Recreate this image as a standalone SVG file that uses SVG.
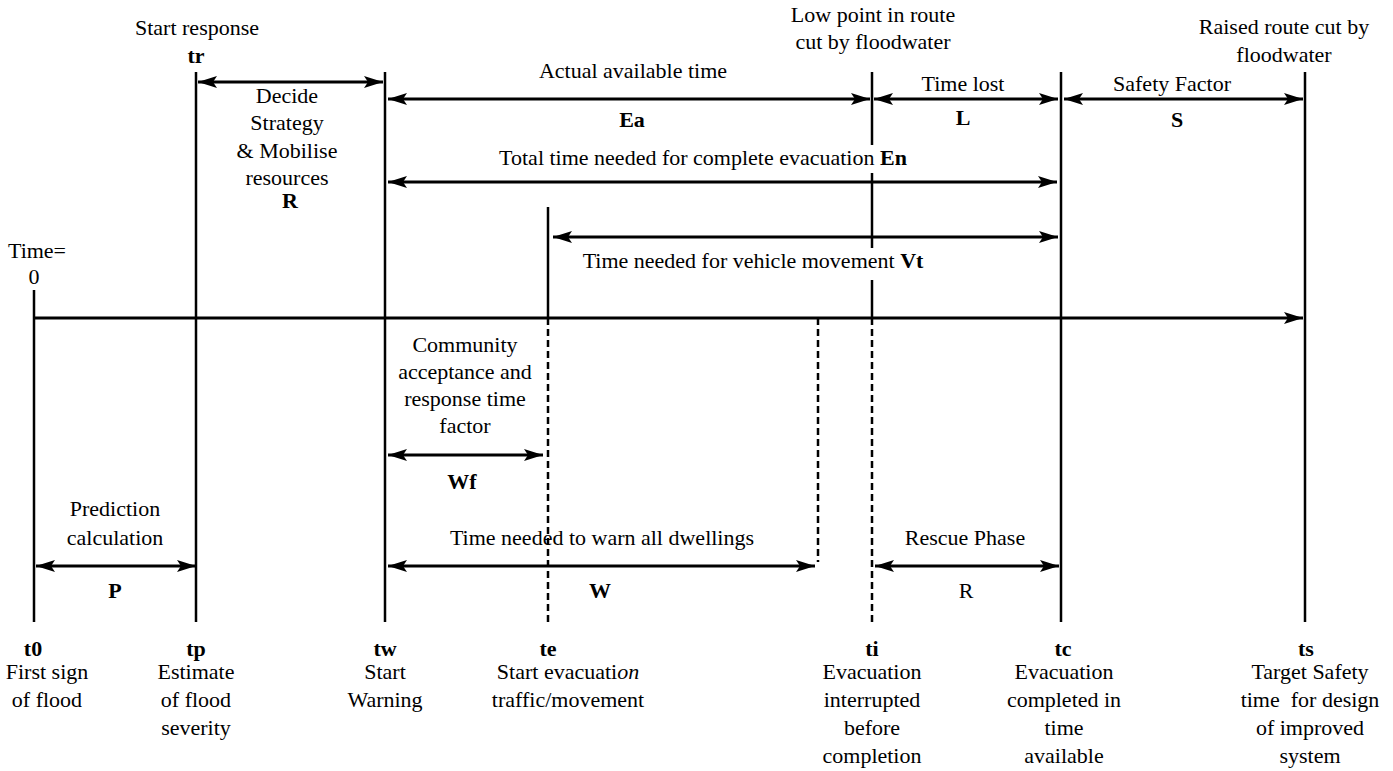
<svg xmlns="http://www.w3.org/2000/svg" width="1393" height="771" viewBox="0 0 1393 771">
<style>
.t{font-family:"Liberation Serif","Times New Roman",serif;font-size:22px;text-anchor:middle;fill:#000}
.b{font-weight:bold}
.ln{stroke:#000;stroke-width:2.5;fill:none}
.dash{stroke-dasharray:7 4}
.ar{stroke:#000;stroke-width:3;fill:none;marker-start:url(#ah);marker-end:url(#ah)}
.ax{stroke:#000;stroke-width:3;fill:none;marker-end:url(#ah)}
</style>
<defs>
<marker id="ah" markerUnits="userSpaceOnUse" markerWidth="20" markerHeight="14" refX="19" refY="7" orient="auto-start-reverse">
<path d="M0,1 L19,7 L0,13 L4,7 z" fill="#000"/>
</marker>
</defs>
<rect width="1393" height="771" fill="#fff"/>

<g id="t0">
<line class="ln" x1="34" y1="290" x2="34" y2="622"/>
<text class="t" x="37" y="258">Time=</text>
<text class="t" x="34" y="284">0</text>
<text class="t b" x="33" y="656">t0</text>
<text class="t" x="47" y="679">First sign</text>
<text class="t" x="47" y="707">of flood</text>
</g>

<g id="tp">
<line class="ln" x1="196" y1="72" x2="196" y2="622"/>
<text class="t" x="197" y="35">Start response</text>
<text class="t b" x="196" y="63">tr</text>
<text class="t b" x="196" y="656">tp</text>
<text class="t" x="196" y="679">Estimate</text>
<text class="t" x="196" y="707">of flood</text>
<text class="t" x="196" y="735">severity</text>
</g>

<g id="tw">
<line class="ln" x1="385" y1="72" x2="385" y2="622"/>
<text class="t b" x="385" y="656">tw</text>
<text class="t" x="385" y="679">Start</text>
<text class="t" x="385" y="707">Warning</text>
</g>

<g id="te">
<line class="ln" x1="548" y1="207" x2="548" y2="318"/>
<line class="ln dash" x1="548" y1="318" x2="548" y2="622"/>
<text class="t b" x="548" y="656">te</text>
<text class="t" x="568" y="679">Start evacuati<tspan font-style="italic">on</tspan></text>
<text class="t" x="568" y="707">traffic/movement</text>
</g>

<g id="wend">
<line class="ln dash" x1="818" y1="318" x2="818" y2="562"/>
</g>

<g id="ti">
<line class="ln" x1="872" y1="72" x2="872" y2="145"/>
<line class="ln" x1="872" y1="173" x2="872" y2="248"/>
<line class="ln" x1="872" y1="280" x2="872" y2="318"/>
<line class="ln dash" x1="872" y1="318" x2="872" y2="622"/>
<text class="t" x="873" y="22">Low point in route</text>
<text class="t" x="873" y="49">cut by floodwater</text>
<text class="t b" x="872" y="656">ti</text>
<text class="t" x="872" y="679">Evacuation</text>
<text class="t" x="872" y="707">interrupted</text>
<text class="t" x="872" y="735">before</text>
<text class="t" x="872" y="763">completion</text>
</g>

<g id="tc">
<line class="ln" x1="1061" y1="72" x2="1061" y2="622"/>
<text class="t b" x="1063" y="656">tc</text>
<text class="t" x="1064" y="679">Evacuation</text>
<text class="t" x="1064" y="707">completed in</text>
<text class="t" x="1064" y="735">time</text>
<text class="t" x="1064" y="763">available</text>
</g>

<g id="ts">
<line class="ln" x1="1305" y1="72" x2="1305" y2="622"/>
<text class="t" x="1284" y="34">Raised route cut by</text>
<text class="t" x="1284" y="62">floodwater</text>
<text class="t b" x="1306" y="656">ts</text>
<text class="t" x="1310" y="679">Target Safety</text>
<text class="t" x="1310" y="707" xml:space="preserve">time  for design</text>
<text class="t" x="1310" y="735">of improved</text>
<text class="t" x="1310" y="763">system</text>
</g>

<g id="connectors">
<line class="ax" x1="34" y1="318" x2="1303" y2="318"/>
<line class="ar" x1="198" y1="82" x2="383" y2="82"/>
<line class="ar" x1="388" y1="99" x2="870" y2="99"/>
<line class="ar" x1="874" y1="99" x2="1058" y2="99"/>
<line class="ar" x1="1064" y1="99" x2="1303" y2="99"/>
<line class="ar" x1="388" y1="182" x2="1057" y2="182"/>
<line class="ar" x1="553" y1="237" x2="1058" y2="237"/>
<line class="ar" x1="388" y1="455" x2="543" y2="455"/>
<line class="ar" x1="36" y1="566" x2="196" y2="566"/>
<line class="ar" x1="388" y1="566" x2="815" y2="566"/>
<line class="ar" x1="875" y1="566" x2="1059" y2="566"/>
</g>

<g id="labels">
<text class="t" x="287" y="103">Decide</text>
<text class="t" x="287" y="130">Strategy</text>
<text class="t" x="287" y="158">&amp; Mobilise</text>
<text class="t" x="287" y="185">resources</text>
<text class="t b" x="290" y="208">R</text>
<text class="t" x="633" y="78">Actual available time</text>
<text class="t b" x="632" y="127">Ea</text>
<text class="t" x="963" y="91">Time lost</text>
<text class="t b" x="963" y="125">L</text>
<text class="t" x="1172" y="91">Safety Factor</text>
<text class="t b" x="1177" y="127">S</text>
<text class="t" x="703" y="165">Total time needed for complete evacuation <tspan class="b">En</tspan></text>
<text class="t" x="753" y="268">Time needed for vehicle movement <tspan class="b">Vt</tspan></text>
<text class="t" x="465" y="352">Community</text>
<text class="t" x="465" y="379">acceptance and</text>
<text class="t" x="465" y="406">response time</text>
<text class="t" x="465" y="433">factor</text>
<text class="t b" x="462" y="489">Wf</text>
<text class="t" x="115" y="516">Prediction</text>
<text class="t" x="115" y="545">calculation</text>
<text class="t b" x="115" y="598">P</text>
<text class="t" x="602" y="545">Time needed to warn all dwellings</text>
<text class="t b" x="600" y="598">W</text>
<text class="t" x="965" y="545">Rescue Phase</text>
<text class="t" x="966" y="598">R</text>
</g>
</svg>
